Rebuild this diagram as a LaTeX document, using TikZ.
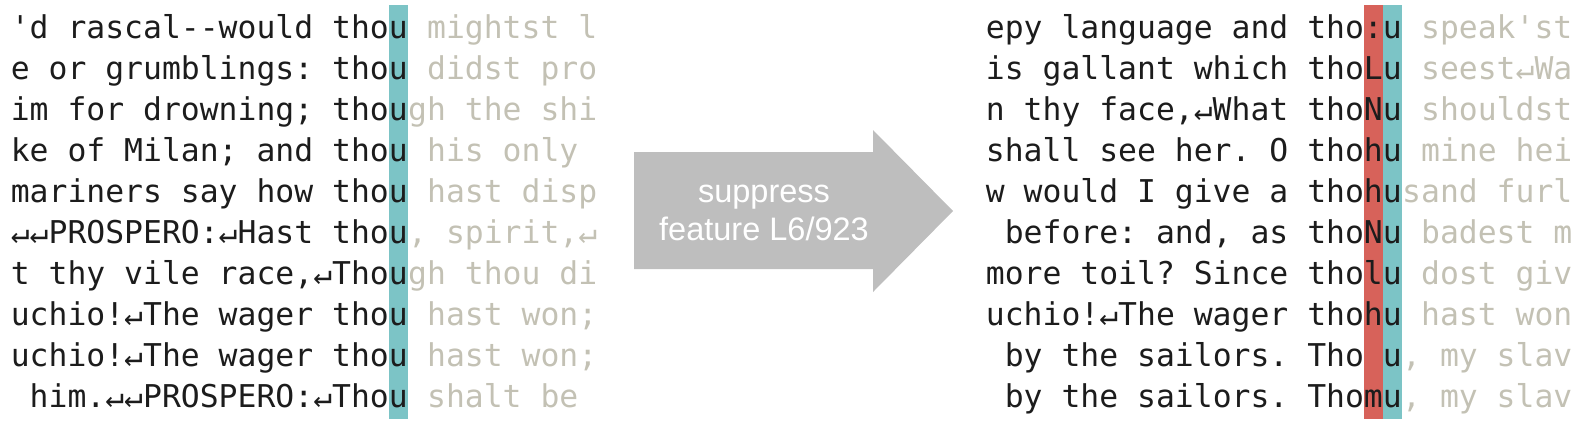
\documentclass[tikz,border=0pt]{standalone}
\usepackage{fontspec}
\setmonofont{DejaVu Sans Mono}
\newfontfamily\arrowfont{Liberation Sans}
\definecolor{darktxt}{RGB}{28,28,28}
\definecolor{graytxt}{RGB}{195,193,180}
\definecolor{tealbar}{RGB}{124,196,198}
\definecolor{redbar}{RGB}{215,98,90}
\definecolor{arrowgray}{RGB}{190,190,190}
\tikzset{
  dk/.style={anchor=base east, inner sep=0pt, text=darktxt, font=\ttfamily\fontsize{31.4}{41}\selectfont},
  gy/.style={anchor=base west, inner sep=0pt, text=graytxt, font=\ttfamily\fontsize{31.4}{41}\selectfont},
  arrowtext/.style={anchor=base, inner sep=0pt, text=white, font=\arrowfont\fontsize{32.5}{38}\selectfont}
}
\begin{document}
\begin{tikzpicture}[x=1pt,y=-1pt]
\useasboundingbox (0,0) rectangle (1590,432);
% bars
\fill[tealbar] (389,5) rectangle (408,419);
\fill[redbar] (1364,5) rectangle (1383,419);
\fill[tealbar] (1383,5) rectangle (1402,419);
% left column
\node[dk] (l1) at (408,38.5) {'d rascal--would thou};
\node[gy] (g1) at (408,38.5) {\ mightst l};
\node[dk] (l2) at (408,79.5) {e or grumblings: thou};
\node[gy] (g2) at (408,79.5) {\ didst pro};
\node[dk] (l3) at (408,120.5) {im for drowning; thou};
\node[gy] (g3) at (408,120.5) {gh the shi};
\node[dk] (l4) at (408,161.5) {ke of Milan; and thou};
\node[gy] (g4) at (408,161.5) {\ his only};
\node[dk] (l5) at (408,202.5) {mariners say how thou};
\node[gy] (g5) at (408,202.5) {\ hast disp};
\node[dk] (l6) at (408,243.5) {↵↵PROSPERO:↵Hast thou};
\node[gy] (g6) at (408,243.5) {, spirit,↵};
\node[dk] (l7) at (408,284.5) {t thy vile race,↵Thou};
\node[gy] (g7) at (408,284.5) {gh thou di};
\node[dk] (l8) at (408,325.5) {uchio!↵The wager thou};
\node[gy] (g8) at (408,325.5) {\ hast won;};
\node[dk] (l9) at (408,366.5) {uchio!↵The wager thou};
\node[gy] (g9) at (408,366.5) {\ hast won;};
\node[dk] (l10) at (408,407.5) {him.↵↵PROSPERO:↵Thou};
\node[gy] (g10) at (408,407.5) {\ shalt be};
% arrow
\fill[arrowgray] (634,152) -- (873,152) -- (873,130) -- (953,211) -- (873,292) -- (873,269) -- (634,269) -- cycle;
\node[arrowtext] (a1) at (764,202) {suppress};
\node[arrowtext] (a2) at (764,240) {feature L6/923};
% right column
\node[dk] (r1) at (1402,38.5) {epy language and tho:u};
\node[gy] (h1) at (1402,38.5) {\ speak'st};
\node[dk] (r2) at (1402,79.5) {is gallant which thoLu};
\node[gy] (h2) at (1402,79.5) {\ seest↵Wa};
\node[dk] (r3) at (1402,120.5) {n thy face,↵What thoNu};
\node[gy] (h3) at (1402,120.5) {\ shouldst};
\node[dk] (r4) at (1402,161.5) {shall see her. O thohu};
\node[gy] (h4) at (1402,161.5) {\ mine hei};
\node[dk] (r5) at (1402,202.5) {w would I give a thohu};
\node[gy] (h5) at (1402,202.5) {sand furl};
\node[dk] (r6) at (1402,243.5) {before: and, as thoNu};
\node[gy] (h6) at (1402,243.5) {\ badest m};
\node[dk] (r7) at (1402,284.5) {more toil? Since tholu};
\node[gy] (h7) at (1402,284.5) {\ dost giv};
\node[dk] (r8) at (1402,325.5) {uchio!↵The wager thohu};
\node[gy] (h8) at (1402,325.5) {\ hast won};
\node[dk] (r9) at (1402,366.5) {by the sailors. Tho u};
\node[gy] (h9) at (1402,366.5) {, my slav};
\node[dk] (r10) at (1402,407.5) {by the sailors. Thomu};
\node[gy] (h10) at (1402,407.5) {, my slav};
\end{tikzpicture}
\end{document}
